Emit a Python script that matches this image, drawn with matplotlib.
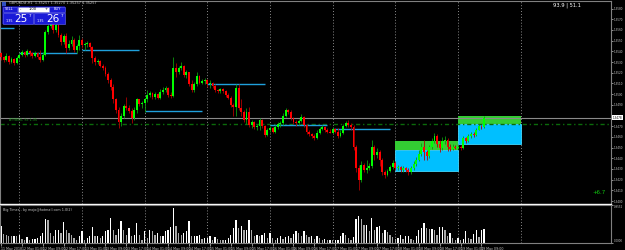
import matplotlib
matplotlib.use("Agg")
import matplotlib.pyplot as plt
from matplotlib.patches import Rectangle

# ---------------- data (GBPUSD H1) ----------------
first_open = 1.3538
close = [
    1.3535, 1.3532, 1.3536, 1.3530, 1.3533, 1.3529, 1.3534, 1.3537, 1.3539, 1.3537,
    1.3540, 1.3538, 1.3536, 1.3538, 1.3535, 1.3532, 1.3537, 1.3558, 1.3564, 1.3567,
    1.3560, 1.3565, 1.3555, 1.3549, 1.3554, 1.3543, 1.3547, 1.3551, 1.3541, 1.3545,
    1.3551, 1.3546, 1.3547, 1.3548, 1.3544, 1.3534, 1.3530, 1.3531, 1.3526, 1.3524,
    1.3519, 1.3513, 1.3507, 1.3495, 1.3485, 1.3474, 1.3480, 1.3489, 1.3487, 1.3484,
    1.3478, 1.3485, 1.3495, 1.3491, 1.3492, 1.3495, 1.3499, 1.3501, 1.3497, 1.3500,
    1.3496, 1.3502, 1.3504, 1.3506, 1.3499, 1.3498, 1.3524, 1.3521, 1.3524, 1.3526,
    1.3518, 1.3521, 1.3509, 1.3504, 1.3509, 1.3517, 1.3510, 1.3512, 1.3513, 1.3509,
    1.3510, 1.3508, 1.3504, 1.3503, 1.3505, 1.3503, 1.3499, 1.3496, 1.3490, 1.3488,
    1.3506, 1.3487, 1.3483, 1.3476, 1.3483, 1.3471, 1.3474, 1.3469, 1.3470, 1.3476,
    1.3470, 1.3462, 1.3466, 1.3468, 1.3465, 1.3469, 1.3472, 1.3473, 1.3480, 1.3485,
    1.3483, 1.3478, 1.3474, 1.3473, 1.3475, 1.3479, 1.3471, 1.3465, 1.3463, 1.3461,
    1.3459, 1.3464, 1.3467, 1.3469, 1.3466, 1.3465, 1.3464, 1.3467, 1.3465, 1.3461,
    1.3464, 1.3470, 1.3473, 1.3471, 1.3469, 1.3451, 1.3431, 1.3420, 1.3434, 1.3429,
    1.3431, 1.3433, 1.3451, 1.3443, 1.3446, 1.3438, 1.3427, 1.3424, 1.3428, 1.3432,
    1.3436, 1.3431, 1.3432, 1.3429, 1.3431, 1.3429, 1.3427, 1.3431, 1.3435, 1.3438,
    1.3444, 1.3451, 1.3446, 1.3442, 1.3451, 1.3456, 1.3461, 1.3453, 1.3450, 1.3456,
    1.3457, 1.3451, 1.3449, 1.3451, 1.3450, 1.3451, 1.3450, 1.3459, 1.3456, 1.3461,
    1.3463, 1.3462, 1.3466, 1.3470, 1.3469, 1.3478]
high = [
    1.3539, 1.3536, 1.3538, 1.3537, 1.3535, 1.3534, 1.3536, 1.3538, 1.3541, 1.3540,
    1.3542, 1.3541, 1.3539, 1.3540, 1.3539, 1.3541, 1.3539, 1.3560, 1.3567, 1.3574,
    1.3569, 1.3567, 1.3566, 1.3557, 1.3556, 1.3557, 1.3551, 1.3554, 1.3552, 1.3547,
    1.3555, 1.3552, 1.3549, 1.3550, 1.3549, 1.3545, 1.3536, 1.3533, 1.3532, 1.3528,
    1.3526, 1.3521, 1.3515, 1.3509, 1.3496, 1.3488, 1.3482, 1.3491, 1.3497, 1.3490,
    1.3487, 1.3488, 1.3496, 1.3495, 1.3494, 1.3496, 1.3504, 1.3503, 1.3502, 1.3502,
    1.3501, 1.3505, 1.3507, 1.3508, 1.3507, 1.3502, 1.3535, 1.3529, 1.3526, 1.3530,
    1.3527, 1.3523, 1.3521, 1.3513, 1.3511, 1.3521, 1.3518, 1.3514, 1.3515, 1.3514,
    1.3513, 1.3511, 1.3509, 1.3505, 1.3506, 1.3506, 1.3504, 1.3501, 1.3498, 1.3492,
    1.3509, 1.3509, 1.3495, 1.3485, 1.3487, 1.3488, 1.3476, 1.3475, 1.3472, 1.3478,
    1.3477, 1.3471, 1.3468, 1.3470, 1.3469, 1.3471, 1.3474, 1.3475, 1.3482, 1.3487,
    1.3486, 1.3485, 1.3479, 1.3476, 1.3477, 1.3481, 1.3480, 1.3472, 1.3466, 1.3464,
    1.3463, 1.3466, 1.3469, 1.3471, 1.3470, 1.3468, 1.3467, 1.3469, 1.3468, 1.3468,
    1.3466, 1.3472, 1.3475, 1.3476, 1.3473, 1.3471, 1.3452, 1.3434, 1.3437, 1.3436,
    1.3438, 1.3436, 1.3457, 1.3452, 1.3450, 1.3448, 1.3440, 1.3429, 1.3430, 1.3434,
    1.3438, 1.3437, 1.3434, 1.3433, 1.3433, 1.3432, 1.3431, 1.3433, 1.3437, 1.3441,
    1.3448, 1.3454, 1.3457, 1.3448, 1.3452, 1.3459, 1.3464, 1.3463, 1.3457, 1.3460,
    1.3461, 1.3459, 1.3453, 1.3453, 1.3452, 1.3452, 1.3452, 1.3461, 1.3460, 1.3463,
    1.3465, 1.3465, 1.3468, 1.3472, 1.3471, 1.3480]
low = [
    1.3532, 1.3530, 1.3531, 1.3528, 1.3529, 1.3527, 1.3528, 1.3533, 1.3536, 1.3535,
    1.3536, 1.3536, 1.3534, 1.3535, 1.3533, 1.3530, 1.3531, 1.3536, 1.3556, 1.3562,
    1.3557, 1.3558, 1.3553, 1.3546, 1.3547, 1.3538, 1.3541, 1.3545, 1.3539, 1.3538,
    1.3541, 1.3543, 1.3541, 1.3544, 1.3541, 1.3529, 1.3527, 1.3528, 1.3525, 1.3523,
    1.3517, 1.3510, 1.3504, 1.3492, 1.3482, 1.3468, 1.3470, 1.3478, 1.3485, 1.3482,
    1.3473, 1.3476, 1.3482, 1.3489, 1.3487, 1.3483, 1.3493, 1.3497, 1.3495, 1.3495,
    1.3495, 1.3495, 1.3500, 1.3502, 1.3497, 1.3496, 1.3497, 1.3516, 1.3519, 1.3523,
    1.3516, 1.3515, 1.3508, 1.3502, 1.3502, 1.3508, 1.3509, 1.3509, 1.3509, 1.3507,
    1.3506, 1.3506, 1.3502, 1.3501, 1.3501, 1.3501, 1.3497, 1.3495, 1.3488, 1.3480,
    1.3480, 1.3485, 1.3480, 1.3474, 1.3472, 1.3469, 1.3468, 1.3467, 1.3466, 1.3466,
    1.3468, 1.3460, 1.3461, 1.3465, 1.3464, 1.3464, 1.3467, 1.3469, 1.3471, 1.3479,
    1.3481, 1.3476, 1.3472, 1.3470, 1.3471, 1.3474, 1.3469, 1.3463, 1.3461, 1.3459,
    1.3457, 1.3458, 1.3463, 1.3466, 1.3465, 1.3464, 1.3464, 1.3464, 1.3464, 1.3459,
    1.3460, 1.3463, 1.3469, 1.3469, 1.3466, 1.3448, 1.3427, 1.3410, 1.3418, 1.3427,
    1.3426, 1.3429, 1.3431, 1.3438, 1.3440, 1.3433, 1.3424, 1.3422, 1.3423, 1.3427,
    1.3430, 1.3429, 1.3429, 1.3427, 1.3427, 1.3427, 1.3424, 1.3425, 1.3429, 1.3433,
    1.3437, 1.3442, 1.3438, 1.3438, 1.3440, 1.3449, 1.3454, 1.3451, 1.3446, 1.3448,
    1.3453, 1.3447, 1.3447, 1.3448, 1.3449, 1.3449, 1.3448, 1.3449, 1.3454, 1.3455,
    1.3459, 1.3460, 1.3461, 1.3466, 1.3467, 1.3468]
volume = [
    500, 280, 250, 220, 200, 220, 200, 250, 120, 100,
    180, 100, 120, 120, 150, 220, 300, 730, 680, 300,
    220, 400, 400, 300, 620, 400, 300, 250, 150, 100,
    200, 350, 100, 150, 220, 480, 200, 220, 150, 200,
    350, 400, 750, 400, 250, 420, 660, 380, 250, 450,
    200, 250, 600, 250, 80, 350, 150, 400, 350, 250,
    300, 200, 220, 350, 400, 480, 1060, 500, 300, 250,
    300, 350, 650, 200, 200, 220, 250, 120, 150, 150,
    200, 100, 180, 120, 100, 80, 100, 150, 250, 450,
    680, 450, 500, 380, 400, 700, 400, 220, 250, 220,
    250, 300, 150, 300, 150, 100, 150, 220, 120, 180,
    220, 150, 280, 350, 300, 220, 350, 250, 180, 210,
    120, 220, 150, 100, 120, 80, 100, 80, 100, 100,
    220, 300, 250, 150, 100, 180, 720, 820, 720, 550,
    550, 350, 750, 400, 480, 500, 300, 400, 320, 250,
    180, 120, 150, 250, 120, 200, 220, 120, 100, 200,
    380, 450, 600, 450, 420, 420, 400, 250, 480, 480,
    400, 200, 300, 150, 100, 150, 100, 120, 350, 150,
    120, 280, 400, 180, 400, 420]

time_label_bars = [0, 8, 16, 24, 32, 40, 48, 56, 64, 72, 80, 88, 96, 104, 112,
                   120, 128, 136, 144, 152, 160, 168, 176, 184]
time_labels = ["11 May 2018", "12 May 01:00", "12 May 09:00", "12 May 17:00",
               "13 May 01:00", "13 May 09:00", "13 May 17:00", "14 May 01:00",
               "14 May 09:00", "14 May 17:00", "15 May 01:00", "15 May 09:00",
               "15 May 17:00", "16 May 01:00", "16 May 09:00", "16 May 17:00",
               "17 May 01:00", "17 May 09:00", "17 May 17:00", "18 May 01:00",
               "18 May 09:00", "18 May 17:00", "19 May 01:00", "19 May 09:00"]
price_ticks = [1.3400, 1.3410, 1.3420, 1.3430, 1.3440, 1.3450, 1.3460, 1.3470,
               1.3490, 1.3500, 1.3510, 1.3520, 1.3530, 1.3540, 1.3550,
               1.3560, 1.3570, 1.3580]
day_separators = [7, 31, 55, 79, 103, 127, 151, 175, 199]
# daily level lines: (start bar, end bar, price)
level_lines = [(-1, 5, 1.3562), (7, 29, 1.3538), (31, 53, 1.3541), (55, 77, 1.3484),
               (79, 101, 1.3509), (103, 125, 1.3471), (127, 149, 1.3467)]
# zones: (start bar, end bar, green top, green bottom / cyan top, cyan bottom)
zones = [(151, 175, 1.3456, 1.3448, 1.3428), (175, 199, 1.3480, 1.3472, 1.3453)]
dash_level = 1.3472
vol_max_label = "0.9552"

# ---------------- figure ----------------
W, H = 625, 250
fig = plt.figure(figsize=(6.25, 2.5), dpi=100, facecolor="black")


def px_axes(x0, y0, x1, y1):
    return fig.add_axes([x0 / W, 1 - y1 / H, (x1 - x0) / W, (y1 - y0) / H])


ax = px_axes(0, 1, 611, 204)
axv = px_axes(0, 205, 611, 243)
for a in (ax, axv):
    a.set_facecolor("black")
    a.set_xlim(-0.383, 233.6)
    for s in a.spines.values():
        s.set_color("#808080")
        s.set_linewidth(0.8)
ax.spines["bottom"].set_color("white")
ax.spines["bottom"].set_linewidth(1.0)
ax.set_ylim(1.339726, 1.358706)

n = len(close)
opens = [first_open] + close[:-1]

# zones
for b0, b1, gt, gb, cb in zones:
    ax.add_patch(Rectangle((b0, gb), b1 - b0, gt - gb, facecolor="#33cc33",
                           edgecolor="none", zorder=1))
    ax.add_patch(Rectangle((b0, cb), b1 - b0, gb - cb, facecolor="#00bfff",
                           edgecolor="#40d8ff", lw=0.6, zorder=1))

# separators
for b in day_separators:
    for a in (ax, axv):
        a.axvline(b, color="#8a8a8a", lw=0.7, ls=(0, (1, 2)), zorder=0.5)

# level lines
for b0, b1, p in level_lines:
    ax.hlines(p, b0, b1, color="#1fa0dc", lw=1.0, zorder=2)

# dashed green level and bid line
ax.axhline(dash_level, color="#0b6b0b", lw=1.0, ls=(0, (3, 2, 1, 2)), zorder=1.5)
ax.axhline(close[-1], color="#8a8a8a", lw=0.8, zorder=1.6)

# candles
for i in range(n):
    o, c = opens[i], close[i]
    h = max(high[i], o, c)
    l = min(low[i], o, c)
    up = c >= o
    wick = "#0b9b0b" if up else "#b00000"
    body = "#00ff00" if up else "#ff0000"
    ax.vlines(i, l, h, color=wick, lw=0.6, zorder=3)
    bot = min(o, c)
    hgt = max(abs(c - o), 0.00009)
    ax.add_patch(Rectangle((i - 0.36, bot), 0.72, hgt, facecolor=body,
                           edgecolor="none", zorder=4))

# price axis
ax.yaxis.tick_right()
ax.set_yticks(price_ticks)
ax.set_yticklabels([f"{p:.4f}" for p in price_ticks])
ax.tick_params(axis="y", colors="#c8c8c8", labelsize=2.0, length=1.5, width=0.5, pad=0.5)
ax.set_xticks([])
ax.annotate(f"{close[-1]:.4f}", xy=(1.0, close[-1]), xycoords=("axes fraction", "data"),
            xytext=(1.2, 0), textcoords="offset points", fontsize=2.0, color="black",
            va="center", ha="left",
            bbox=dict(boxstyle="square,pad=0.15", fc="white", ec="none"),
            annotation_clip=False)
ax.text(3, dash_level + 0.00025, "ATYBBX, Sc 1.35", fontsize=2.4, color="#1a9a1a",
        transform=ax.transData)

# volume
vcols = ["white" if i == 0 or volume[i] >= volume[i - 1] else "#a8a8a8" for i in range(n)]
axv.bar(range(n), volume, width=0.5, color=vcols, zorder=2)
axv.set_ylim(0, 1141)
axv.yaxis.tick_right()
axv.set_yticks([0, 1141])
axv.set_yticklabels(["0.0000", vol_max_label])
axv.tick_params(axis="y", colors="#c8c8c8", labelsize=2.0, length=1.5, width=0.5, pad=0.5)
for lab, va in zip(axv.get_yticklabels(), ["bottom", "top"]):
    lab.set_va(va)
axv.set_xticks(time_label_bars)
axv.set_xticklabels(time_labels, ha="left")
axv.tick_params(axis="x", colors="#c8c8c8", labelsize=2.3, length=2, width=0.5, pad=1)
axv.text(0.005, 0.93, "Big Times - by mojo@hotmail.com 1.0(2)", transform=axv.transAxes,
         fontsize=2.4, color="#c8c8c8", va="top", ha="left")

# ---------------- overlay (texts / trade panel) ----------------
ov = fig.add_axes([0, 0, 1, 1], zorder=10)
ov.set_xlim(0, W)
ov.set_ylim(H, 0)
ov.axis("off")
ov.patch.set_alpha(0)

ov.text(9, 3.5, "GBPUSD#,H1  1.35257 1.35270 1.35257 1.35257", fontsize=2.5,
        color="#c8c8c8", va="center", ha="left")
ov.add_patch(Rectangle((2, 1.5), 4, 4, facecolor="#3050c0", edgecolor="none"))
# panel
blue = "#1a1ad8"
ov.add_patch(Rectangle((2, 6), 63, 18, facecolor="#0a0a80", edgecolor="none"))
ov.add_patch(Rectangle((2.5, 6.5), 14.5, 5.5, facecolor=blue, edgecolor="#6a6aff", lw=0.4))
ov.add_patch(Rectangle((49, 6.5), 15.5, 5.5, facecolor=blue, edgecolor="#6a6aff", lw=0.4))
ov.add_patch(Rectangle((17.5, 6.8), 31, 5, facecolor="white", edgecolor="#9090ff", lw=0.4))
ov.text(9.5, 9.3, "SELL", fontsize=2.6, color="white", ha="center", va="center")
ov.text(57, 9.3, "BUY", fontsize=2.6, color="white", ha="center", va="center")
ov.text(33, 9.3, "1.00", fontsize=2.6, color="black", ha="center", va="center")
ov.text(20, 9.3, "-", fontsize=2.6, color="black", ha="center", va="center")
ov.text(46, 9.3, "+", fontsize=2.6, color="black", ha="center", va="center")
ov.add_patch(Rectangle((2.5, 12.5), 30.5, 11.5, facecolor=blue, edgecolor="#6a6aff", lw=0.4))
ov.add_patch(Rectangle((34, 12.5), 30.5, 11.5, facecolor=blue, edgecolor="#6a6aff", lw=0.4))
for x0, big in ((2.5, "25"), (34, "26")):
    ov.text(x0 + 3, 20.5, "1.35", fontsize=2.4, color="white", ha="left", va="center")
    ov.text(x0 + 12, 19.5, big, fontsize=7.5, color="white", ha="left", va="center")
    ov.text(x0 + 26.3, 15.8, "7", fontsize=3.0, color="white", ha="left", va="center")

ov.text(553, 5.5, "93.9 | 51.1", fontsize=3.7, color="white", ha="left", va="center")
ov.text(592, 193, "+6.7", fontsize=3.9, color="#10c810", ha="left", va="center")

fig.savefig("out.png", dpi=100, facecolor="black")
